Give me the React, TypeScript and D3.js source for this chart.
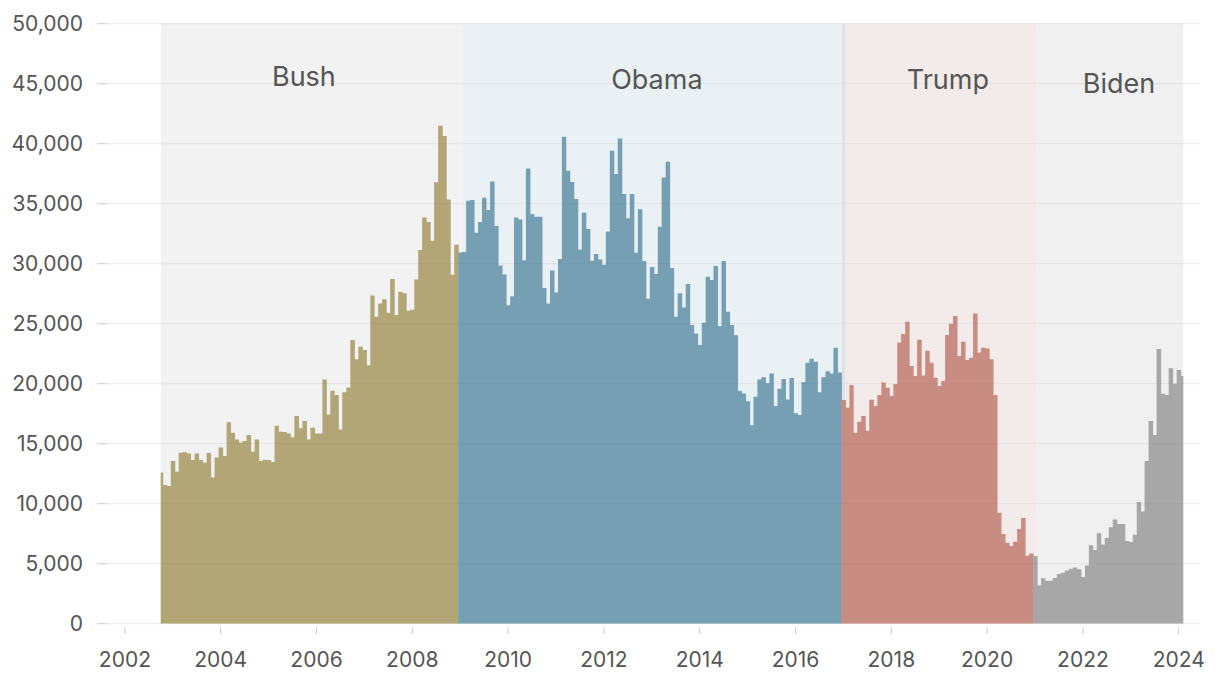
import React from 'react';
import * as d3 from 'd3';

// ---------- DATA ----------
const firstMonth = '2002-10-01'; // first monthly bar (Oct 2002), last is Feb 2024

const bushValues = [
  12610, 11560, 11470, 13560, 12670, 14250, 14280, 14190, 13640, 14190, 13640, 13420,
  14220, 12190, 13860, 14690, 13970, 16780, 15920, 15360, 15110, 15220, 15720, 14330,
  15360, 13560, 13670, 13640, 13470, 16500, 16000, 15970, 15860, 15530, 17310, 16280,
  16890, 15360, 16330, 15860, 15860, 20360, 17440, 19420, 19060, 16190, 19280, 19690,
  23640, 22030, 23080, 22810, 21530, 27360, 25580, 26690, 27030, 25920, 28720, 25720,
  27670, 27530, 26080, 26170, 28690, 31140, 33860, 33470, 31920, 36780, 41500, 40640,
  35360, 29080, 31580,
];

const obamaValues = [
  30940, 30970, 35250, 35310, 32580, 33470, 35500, 34470, 36860, 33140, 29860, 29110,
  26530, 27280, 33860, 33690, 30280, 37940, 34140, 33920, 33920, 27970, 26690, 29440,
  27610, 30390, 40580, 37750, 36810, 35390, 31190, 34250, 32890, 30250, 30810, 30360,
  29920, 32690, 39420, 37470, 40440, 35810, 33780, 35810, 30920, 34530, 30220, 27080,
  29720, 29140, 33080, 37190, 38500, 29640, 25580, 27530, 26360, 28310, 24890, 24190,
  23220, 25080, 28920, 28640, 29810, 24810, 30220, 26000, 24890, 24030, 19390, 19190,
  18530, 16530, 18920, 20360, 20530, 20030, 20860, 18140, 19580, 20390, 18690, 20470,
  17530, 17390, 20140, 21750, 22080, 21830, 19280, 20530, 21030, 20860, 23000, 20940,
];

const trumpValues = [
  18640, 18000, 19890, 15920, 16830, 17310, 16080, 18670, 18140, 19060, 20110, 19670,
  18970, 19970, 23440, 24140, 25170, 21470, 20640, 23670, 20690, 22750, 21750, 20500,
  19810, 20220, 24060, 25000, 25640, 22310, 23500, 21970, 22170, 25860, 22610, 23000,
  22940, 22030, 19060, 9250, 7470, 6750, 6470, 6830, 7890, 8810, 5670, 5860,
];

const bidenValues = [
  5640, 3190, 3780, 3560, 3580, 3810, 4140, 4250, 4440, 4580, 4690, 4530,
  3890, 4860, 6530, 6140, 7530, 6610, 7140, 8030, 8690, 8310, 8310, 6890,
  6810, 7420, 10140, 9360, 13560, 16890, 15720, 22890, 19170, 19060, 21280, 20000,
  21140, 20640,
];

const presidents = ['Bush', 'Obama', 'Trump', 'Biden'];
const seriesByPresident = [bushValues, obamaValues, trumpValues, bidenValues];
const termStarts = ['2002-10-01', '2009-01-20', '2016-12-24', '2021-01-08'];
const termEnds = ['2009-01-20', '2017-01-10', '2021-01-08', '2024-02-05'];

const xTickYears = [2002, 2004, 2006, 2008, 2010, 2012, 2014, 2016, 2018, 2020, 2022, 2024];
const yTickValues = [0, 5000, 10000, 15000, 20000, 25000, 30000, 35000, 40000, 45000, 50000];

// ---------- STYLE / LAYOUT ----------
const W = 1220;
const H = 690;
const barColors = ['#b2a576', '#769fb4', '#c98c82', '#a7a7a7'];
const shadeColors = ['rgba(0,0,0,0.052)', 'rgba(25,105,135,0.095)', 'rgba(120,20,10,0.085)', 'rgba(0,0,0,0.058)'];
const labelAnchors = ['2005-09-27', '2013-02-08', '2019-03-08', '2022-10-03'];
const labelBaselines = [86, 89, 89, 93];
const FONT = 'Inter, "Open Sans", sans-serif';
const TEXT = '#555555';

const parse = (s: string) => {
  const [y, m, d] = s.split('-').map(Number);
  return new Date(Date.UTC(y, m - 1, d));
};

export default function App() {
  const x = d3
    .scaleUtc()
    .domain([new Date(Date.UTC(2002, 0, 1)), new Date(Date.UTC(2024, 0, 1))])
    .range([124.9, 1178.7]);
  const y = d3.scaleLinear().domain([0, 50000]).range([623.7, 23.7]);

  const start = parse(firstMonth);
  // one path per president: union of monthly rectangles (no seams between bars)
  let idx = 0;
  const barPaths = seriesByPresident.map((vals) => {
    const p = d3.path();
    vals.forEach((v) => {
      const date = d3.utcMonth.offset(start, idx);
      const cx = x(date);
      const x0 = (x(d3.utcMonth.offset(date, -1)) + cx) / 2;
      const x1 = (cx + x(d3.utcMonth.offset(date, 1))) / 2;
      p.rect(x0, y(v), x1 - x0 + 0.5, y(0) - y(v));
      idx++;
    });
    return p.toString();
  });

  const clipX0 = x(parse(termStarts[0]));
  const clipX1 = x(parse(termEnds[3]));
  const gridX0 = 97;
  const gridX1 = 1200;

  return (
    <svg
      width={W}
      height={H}
      style={{ position: 'absolute', left: 0, top: 0, background: '#fff' }}
      fontFamily={FONT}
    >
      <defs>
        <clipPath id="plotClip">
          <rect x={clipX0} y={0} width={clipX1 - clipX0} height={y(0)} />
        </clipPath>
      </defs>

      {/* term shading */}
      {presidents.map((name, k) => {
        const a = x(parse(termStarts[k]));
        const b = x(parse(termEnds[k]));
        return <rect key={name} x={a} y={y(50000)} width={b - a} height={y(0) - y(50000)} fill={shadeColors[k]} />;
      })}

      {/* grid lines */}
      {yTickValues.map((v) => (
        <g key={v}>
          <line x1={gridX0} x2={gridX1} y1={y(v)} y2={y(v)} stroke="#e9e9e9" strokeWidth={1} />
          <line x1={gridX0} x2={gridX0 + 10} y1={y(v)} y2={y(v)} stroke="#d2d2d2" strokeWidth={1} />
        </g>
      ))}

      {/* bars */}
      <g clipPath="url(#plotClip)">
        {barPaths.map((dPath, k) => (
          <path key={presidents[k]} d={dPath} fill={barColors[k]} />
        ))}
      </g>

      {/* faint grid showing through the bars */}
      {yTickValues.slice(1).map((v) => (
        <line
          key={'o' + v}
          x1={clipX0}
          x2={clipX1}
          y1={y(v)}
          y2={y(v)}
          stroke="rgba(0,0,0,0.03)"
          strokeWidth={1}
        />
      ))}

      {/* period labels */}
      {presidents.map((name, k) => (
        <text
          key={name}
          x={x(parse(labelAnchors[k]))}
          y={labelBaselines[k]}
          textAnchor="middle"
          fontSize={27}
          fill={TEXT}
        >
          {name}
        </text>
      ))}

      {/* y axis labels */}
      {yTickValues.map((v) => (
        <text key={v} x={83} y={y(v)} dy="0.35em" textAnchor="end" fontSize={21} fill={TEXT}>
          {d3.format(',')(v)}
        </text>
      ))}

      {/* x axis ticks */}
      {xTickYears.map((yr) => {
        const xx = x(new Date(Date.UTC(yr, 0, 1)));
        return (
          <g key={yr}>
            <line x1={xx} x2={xx} y1={627} y2={634} stroke="#cccccc" strokeWidth={1} />
            <text x={xx} y={667} textAnchor="middle" fontSize={21} fill={TEXT}>
              {yr}
            </text>
          </g>
        );
      })}
    </svg>
  );
}
